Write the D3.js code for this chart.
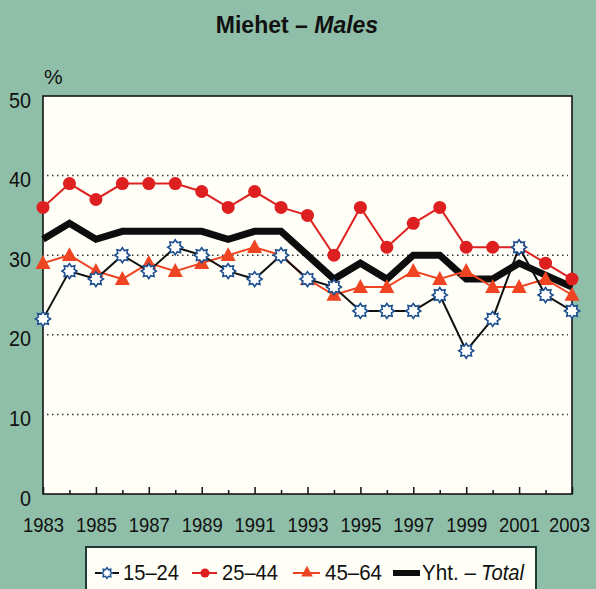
<!DOCTYPE html>
<meta charset="utf-8">
<script src="https://d3js.org/d3.v7.min.js"></script>
<style>
  body { margin: 0; background: #90bfa9; }
  text { font-family: "Liberation Sans", Arial, sans-serif; fill: #111; }
</style>
<div id="my_chart"></div>
<script>
// values, one per year 1983..2003
var years = d3.range(1983, 2004);
var age1524 = [22, 28, 27, 30, 28, 31, 30, 28, 27, 30, 27, 26, 23, 23, 23, 25, 18, 22, 31, 25, 23];
var age2544 = [36, 39, 37, 39, 39, 39, 38, 36, 38, 36, 35, 30, 36, 31, 34, 36, 31, 31, 31, 29, 27];
var age4564 = [29, 30, 28, 27, 29, 28, 29, 30, 31, 30, 27, 25, 26, 26, 28, 27, 28, 26, 26, 27, 25];
var total   = [32, 34, 32, 33, 33, 33, 33, 32, 33, 33, 30, 27, 29, 27, 30, 30, 27, 27, 29, 27.5, 26];
var yTicks = [0, 10, 20, 30, 40, 50];
var gridTicks = [10, 20, 30, 40];
var labelYears = years.filter(function(d) { return d % 2 == 1; });
var minorYears = years.filter(function(d) { return d % 2 == 0; });

var W = 596, H = 589;
var margin = {top: 96, right: 24, bottom: 95, left: 43},
    width = W - margin.left - margin.right,
    height = H - margin.top - margin.bottom;

var svg = d3.select("#my_chart")
  .append("svg")
    .attr("width", W)
    .attr("height", H);

// title
var title = svg.append("text")
  .attr("x", 297)
  .attr("y", 33)
  .attr("text-anchor", "middle")
  .style("font-weight", "bold")
  .style("font-size", "23px");
title.append("tspan").text("Miehet – ");
title.append("tspan").style("font-style", "italic").text("Males");

var g = svg.append("g")
  .attr("transform", "translate(" + margin.left + "," + margin.top + ")");

var x = d3.scaleLinear().domain([1983, 2003]).range([0, width]);
var y = d3.scaleLinear().domain([0, 50]).range([height, 0]);

// plot background
g.append("rect")
  .attr("width", width)
  .attr("height", height)
  .attr("fill", "#fffff8");

// dotted grid
g.selectAll(".grid")
  .data(gridTicks)
  .enter().append("line")
    .attr("x1", 4).attr("x2", width - 4)
    .attr("y1", function(d) { return y(d); })
    .attr("y2", function(d) { return y(d); })
    .attr("stroke", "#333")
    .attr("stroke-width", 1.5)
    .attr("stroke-dasharray", "1.5,3.5");

// x ticks: long on labelled years, short between
var xAxis = g.append("g")
  .attr("transform", "translate(0," + height + ")")
  .call(d3.axisBottom(x).tickValues(labelYears).tickFormat(d3.format("d"))
    .tickSizeInner(-7).tickSizeOuter(0).tickPadding(23));
xAxis.select(".domain").remove();
xAxis.selectAll("text")
  .style("font-size", "21px")
  .style("font-family", "'Liberation Sans', Arial, sans-serif")
  .attr("fill", "#111")
  .attr("textLength", 41)
  .attr("lengthAdjust", "spacingAndGlyphs")
  .attr("dx", function(d) { return d == 2003 ? -3 : 0; });
xAxis.selectAll("line").attr("stroke", "#111").attr("stroke-width", 1.5);

var xMinor = g.append("g")
  .attr("transform", "translate(0," + height + ")")
  .call(d3.axisBottom(x).tickValues(minorYears).tickFormat("")
    .tickSizeInner(-4).tickSizeOuter(0));
xMinor.select(".domain").remove();
xMinor.selectAll("line").attr("stroke", "#111").attr("stroke-width", 1.5);

// y labels
var yAxis = g.append("g")
  .call(d3.axisLeft(y).tickValues(yTicks).tickSize(0).tickPadding(12));
yAxis.select(".domain").remove();
yAxis.selectAll("text")
  .style("font-size", "22px")
  .style("font-family", "'Liberation Sans', Arial, sans-serif")
  .attr("fill", "#111")
  .attr("dy", "0.5em")
  .attr("textLength", function(d) { return d == 0 ? 11 : 22; })
  .attr("lengthAdjust", "spacingAndGlyphs");

g.append("text")
  .attr("x", 1)
  .attr("y", -12)
  .style("font-size", "21px")
  .text("%");

// frame
g.append("rect")
  .attr("width", width)
  .attr("height", height)
  .attr("fill", "none")
  .attr("stroke", "#151515")
  .attr("stroke-width", 1.6);

var line = d3.line()
  .x(function(d, i) { return x(years[i]); })
  .y(function(d) { return y(d); });

var starPath = function(r1, r2) {
  var pts = [];
  for (var k = 0; k < 16; k++) {
    var a = k * Math.PI / 8 - Math.PI / 2;
    var r = k % 2 == 0 ? r1 : r2;
    pts.push([r * Math.cos(a), r * Math.sin(a)]);
  }
  return "M" + pts.join("L") + "Z";
};
var triPath = function(s) {
  return "M0," + (-s * 0.62) + "L" + (s * 0.58) + "," + (s * 0.45) + "L" + (-s * 0.58) + "," + (s * 0.45) + "Z";
};

// total (thick black)
g.append("path")
  .datum(total)
  .attr("fill", "none")
  .attr("stroke", "#0d0d0d")
  .attr("stroke-width", 7)
  .attr("d", line);

// 45-64
g.append("path")
  .datum(age4564)
  .attr("fill", "none")
  .attr("stroke", "#ee4422")
  .attr("stroke-width", 2)
  .attr("d", line);
g.selectAll(".tri")
  .data(age4564)
  .enter().append("path")
    .attr("transform", function(d, i) { return "translate(" + x(years[i]) + "," + y(d) + ")"; })
    .attr("d", triPath(13))
    .attr("fill", "#ee4422");

// 25-44
g.append("path")
  .datum(age2544)
  .attr("fill", "none")
  .attr("stroke", "#dd2222")
  .attr("stroke-width", 2)
  .attr("d", line);
g.selectAll(".dot")
  .data(age2544)
  .enter().append("circle")
    .attr("cx", function(d, i) { return x(years[i]); })
    .attr("cy", function(d) { return y(d); })
    .attr("r", 6.5)
    .attr("fill", "#dd1f1f");

// 15-24
g.append("path")
  .datum(age1524)
  .attr("fill", "none")
  .attr("stroke", "#111")
  .attr("stroke-width", 2)
  .attr("d", line);
g.selectAll(".star")
  .data(age1524)
  .enter().append("path")
    .attr("transform", function(d, i) { return "translate(" + x(years[i]) + "," + y(d) + ")"; })
    .attr("d", starPath(7.5, 5))
    .attr("fill", "#fff")
    .attr("stroke", "#1d4f8f")
    .attr("stroke-width", 1.6);

// legend
var lg = svg.append("g");
lg.append("rect")
  .attr("x", 86).attr("y", 547)
  .attr("width", 450).attr("height", 60)
  .attr("fill", "#fffff8")
  .attr("stroke", "#1e3b36")
  .attr("stroke-width", 2);

var ly = 573;
var legendText = function(xp, len) {
  return lg.append("text").attr("x", xp).attr("y", 580)
    .style("font-size", "22px")
    .attr("textLength", len)
    .attr("lengthAdjust", "spacingAndGlyphs");
};
lg.append("line").attr("x1", 95).attr("x2", 119).attr("y1", ly).attr("y2", ly)
  .attr("stroke", "#111").attr("stroke-width", 2);
lg.append("path").attr("transform", "translate(107," + ly + ")").attr("d", starPath(5.5, 3.6))
  .attr("fill", "#fff").attr("stroke", "#1d4f8f").attr("stroke-width", 1.4);
legendText(123, 56).text("15–24");

lg.append("line").attr("x1", 192).attr("x2", 217).attr("y1", ly).attr("y2", ly)
  .attr("stroke", "#dd2222").attr("stroke-width", 2);
lg.append("circle").attr("cx", 205).attr("cy", ly).attr("r", 4.5).attr("fill", "#dd1f1f");
legendText(222, 56).text("25–44");

lg.append("line").attr("x1", 293).attr("x2", 320).attr("y1", ly).attr("y2", ly)
  .attr("stroke", "#ee4422").attr("stroke-width", 2);
lg.append("path").attr("transform", "translate(307," + (ly - 1) + ")").attr("d", triPath(10))
  .attr("fill", "#ee4422");
legendText(325, 57).text("45–64");

lg.append("line").attr("x1", 393).attr("x2", 420).attr("y1", ly).attr("y2", ly)
  .attr("stroke", "#0d0d0d").attr("stroke-width", 6);
legendText(422, 54).text("Yht. –");
legendText(481, 43).style("font-style", "italic").text("Total");
</script>
